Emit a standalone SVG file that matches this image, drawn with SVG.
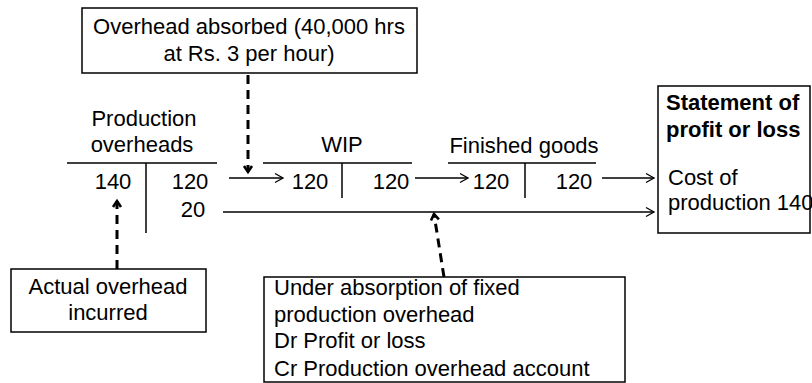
<svg xmlns="http://www.w3.org/2000/svg" width="812" height="383" viewBox="0 0 812 383">
<defs>
<style>
text{font-family:"Liberation Sans",Arial,sans-serif;font-size:22px;fill:#000}
.c{text-anchor:middle}
.b{font-weight:bold}
.box{fill:#fff;stroke:#000;stroke-width:1.5}
.ln{stroke:#000;stroke-width:1.5;fill:none}
.ar{stroke:#000;stroke-width:1.3;fill:none}
.ds{stroke:#000;stroke-width:3;fill:none;stroke-dasharray:9,6}
</style>
<marker id="oa" markerUnits="userSpaceOnUse" markerWidth="12" markerHeight="12" refX="9" refY="6" orient="auto">
<path d="M1,1.5 L9,6 L1,10.5" fill="none" stroke="#000" stroke-width="1.3"/>
</marker>
<marker id="da" markerUnits="userSpaceOnUse" markerWidth="12" markerHeight="12" refX="8" refY="6" orient="auto">
<path d="M2,2 L8,6 L2,10" fill="none" stroke="#000" stroke-width="2.6"/>
</marker>
</defs>

<g id="absorbed">
<rect class="box" x="82" y="8" width="335" height="65"/>
<text class="c" x="249" y="34">Overhead absorbed (40,000 hrs</text>
<text class="c" x="249" y="61">at Rs. 3 per hour)</text>
</g>

<g id="prod-overheads">
<text class="c" x="144" y="126">Production</text>
<text class="c" x="142" y="152">overheads</text>
<line class="ln" x1="67" y1="163" x2="217" y2="163"/>
<line class="ln" x1="146" y1="163" x2="146" y2="233"/>
<text class="c" x="113" y="189">140</text>
<text class="c" x="190" y="189">120</text>
<text class="c" x="193" y="217">20</text>
</g>

<g id="wip">
<text class="c" x="342" y="152">WIP</text>
<line class="ln" x1="263" y1="163" x2="412" y2="163"/>
<line class="ln" x1="342" y1="163" x2="342" y2="198"/>
<text class="c" x="310" y="189">120</text>
<text class="c" x="391" y="189">120</text>
</g>

<g id="finished-goods">
<text class="c" x="524" y="153">Finished goods</text>
<line class="ln" x1="448" y1="163" x2="596" y2="163"/>
<line class="ln" x1="525" y1="163" x2="525" y2="198"/>
<text class="c" x="491" y="189">120</text>
<text class="c" x="574" y="189">120</text>
</g>

<g id="statement">
<rect class="box" x="658" y="86" width="152" height="147"/>
<text class="b" x="666" y="110">Statement of</text>
<text class="b" x="666" y="137">profit or loss</text>
<text x="668" y="185">Cost of</text>
<text x="668" y="210">production 140</text>
</g>

<g id="actual">
<rect class="box" x="11" y="269" width="195" height="63"/>
<text class="c" x="108" y="294">Actual overhead</text>
<text class="c" x="108" y="320">incurred</text>
</g>

<g id="under">
<rect class="box" x="264" y="277" width="361" height="105"/>
<text x="274" y="295">Under absorption of fixed</text>
<text x="274" y="322">production overhead</text>
<text x="274" y="348">Dr Profit or loss</text>
<text x="274" y="376">Cr Production overhead account</text>
</g>

<g id="connectors">
<line class="ar" x1="229" y1="178" x2="283" y2="178" marker-end="url(#oa)"/>
<line class="ar" x1="415" y1="178" x2="468" y2="178" marker-end="url(#oa)"/>
<line class="ar" x1="602" y1="178" x2="654" y2="178" marker-end="url(#oa)"/>
<line class="ar" x1="223" y1="212" x2="654" y2="212" marker-end="url(#oa)"/>
<line class="ds" x1="248" y1="75" x2="248" y2="172" marker-end="url(#da)"/>
<line class="ds" x1="117" y1="269" x2="117" y2="201" marker-end="url(#da)"/>
<line class="ds" x1="444" y1="277" x2="434" y2="214" marker-end="url(#da)"/>
</g>
</svg>
